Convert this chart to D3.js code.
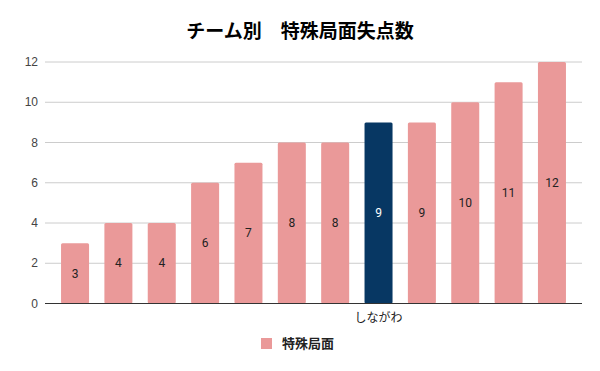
<!DOCTYPE html>
<html><head><meta charset="utf-8">
<script src="https://cdn.jsdelivr.net/npm/d3@7"></script>
<style>body{margin:0;background:#fff}svg{display:block}</style>
</head><body><svg id="c" width="600" height="371"></svg>
<script>
const categories = ["t1","t2","t3","t4","t5","t6","t7","しながわ","t9","t10","t11","t12"];
const xLabels = ["","","","","","","","しながわ","","","",""];
const values = [3,4,4,6,7,8,8,9,9,10,11,12];
const yTicks = [0,2,4,6,8,10,12];
const highlight = "しながわ";
const seriesName = "特殊局面";
const title = "チーム別　特殊局面失点数";

const svg = d3.select("#c");
const font = "Roboto, 'Noto Sans CJK JP', sans-serif";
const L=45, R=582, T=62, B=303.5;
const x = d3.scaleBand().domain(categories).range([L,R]).paddingInner(0.354).paddingOuter(0.37);
const y = d3.scaleLinear().domain([0,12]).range([B,T]);

svg.append("text").attr("x",300).attr("y",38).attr("text-anchor","middle")
  .attr("font-family","'Noto Sans CJK JP', sans-serif").attr("font-weight","bold").attr("font-size",19)
  .attr("fill","#000").text(title);

const g = svg.append("g");
g.selectAll("line.grid").data(yTicks.filter(d=>d>0)).join("line")
  .attr("x1",L).attr("x2",R).attr("y1",d=>y(d)).attr("y2",d=>y(d))
  .attr("stroke","#cccccc").attr("stroke-width",1);
g.selectAll("text.yt").data(yTicks).join("text")
  .attr("x",L-7).attr("y",d=>y(d)).attr("dy","0.35em").attr("text-anchor","end")
  .attr("font-family","'Liberation Sans', Arial, sans-serif").attr("font-size",12).attr("fill","#444").text(d=>d);

g.selectAll("rect.bar").data(values).join("rect")
  .attr("x",(d,i)=>x(categories[i])).attr("width",x.bandwidth())
  .attr("y",d=>y(d)).attr("height",d=>B-y(d)).attr("rx",1.5)
  .attr("fill",(d,i)=>categories[i]===highlight?"#073763":"#ea9999");

g.selectAll("text.val").data(values).join("text")
  .attr("x",(d,i)=>x(categories[i])+x.bandwidth()/2)
  .attr("y",d=>(y(d)+B)/2).attr("dy","0.35em").attr("text-anchor","middle")
  .attr("font-family",font).attr("font-size",12)
  .attr("fill",(d,i)=>categories[i]===highlight?"#ffffff":"#222").text(d=>d);

g.append("line").attr("x1",L).attr("x2",R).attr("y1",B).attr("y2",B).attr("stroke","#333").attr("stroke-width",1);

g.selectAll("text.xl").data(xLabels).join("text")
  .attr("x",(d,i)=>x(categories[i])+x.bandwidth()/2).attr("y",322).attr("text-anchor","middle")
  .attr("font-family","'Noto Sans CJK JP', sans-serif").attr("font-size",12).attr("fill","#222").text(d=>d);

svg.append("rect").attr("x",261).attr("y",338).attr("width",11).attr("height",11).attr("fill","#ea9999");
svg.append("text").attr("x",282).attr("y",343.5).attr("dy","0.35em")
  .attr("font-family","'Noto Sans CJK JP', sans-serif").attr("font-size",13).attr("font-weight","bold").attr("fill","#222").text(seriesName);
</script></body></html>
